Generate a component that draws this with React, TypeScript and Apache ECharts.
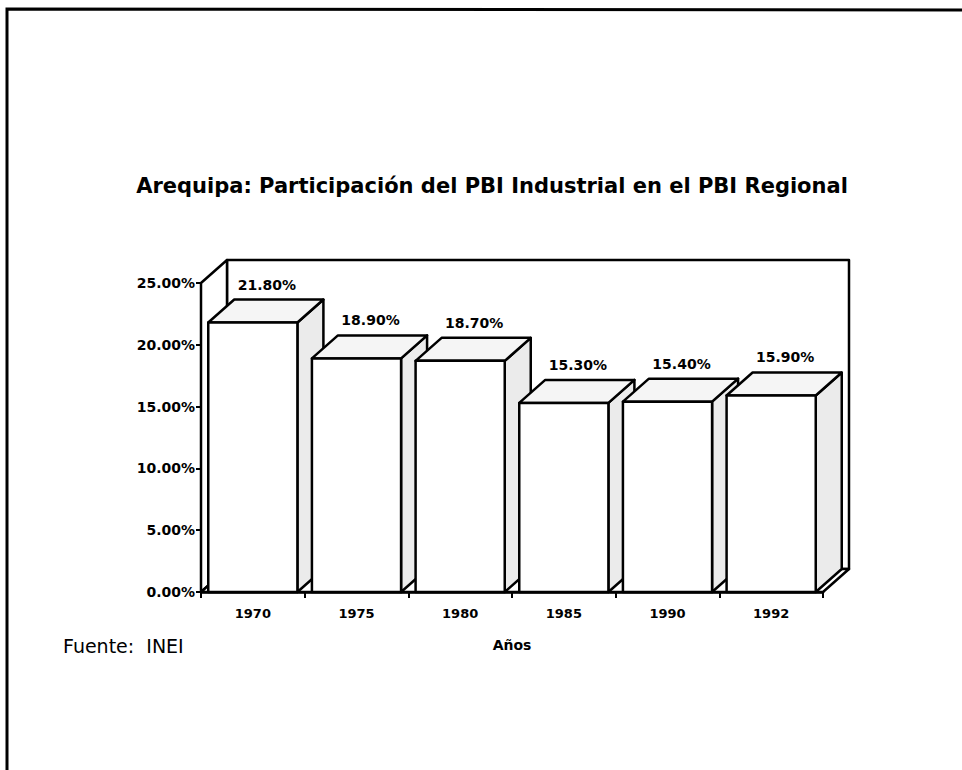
import React, { useEffect, useRef } from "react";
import * as echarts from "echarts";

const categories = ["1970", "1975", "1980", "1985", "1990", "1992"];
const values = [21.8, 18.9, 18.7, 15.3, 15.4, 15.9];
const yMin = 0;
const yMax = 25;
const yInterval = 5;
const titleText = "Arequipa: Participación del PBI Industrial en el PBI Regional";
const sourceText = "Fuente:  INEI";
const xAxisName = "Años";

const DX = 26;
const DY = -23;
const BAR_FRAC = 0.86;
const FONT = "'DejaVu Sans', Verdana, sans-serif";

export default function App() {
  const ref = useRef<HTMLDivElement>(null);

  useEffect(() => {
    if (!ref.current) return;
    const chart = echarts.init(ref.current, undefined, { renderer: "svg" });

    const wallRender = (params: any, api: any) => {
      const cs = params.coordSys;
      const x0 = cs.x;
      const x1 = cs.x + cs.width;
      const yT = api.coord([0, yMax])[1];
      const yB = api.coord([0, yMin])[1];
      const st = { fill: "#fff", stroke: "#000", lineWidth: 2.5, lineJoin: "round" };
      return {
        type: "group",
        children: [
          {
            type: "polygon",
            shape: { points: [[x0 + DX, yT + DY], [x1 + DX, yT + DY], [x1 + DX, yB + DY], [x0 + DX, yB + DY]] },
            style: st,
          },
          {
            type: "polygon",
            shape: { points: [[x0, yT], [x0 + DX, yT + DY], [x0 + DX, yB + DY], [x0, yB]] },
            style: st,
          },
          {
            type: "polygon",
            shape: { points: [[x0, yB], [x1, yB], [x1 + DX, yB + DY], [x0 + DX, yB + DY]] },
            style: st,
          },
        ],
      };
    };

    const barRender = (params: any, api: any) => {
      const idx = api.value(0);
      const v = api.value(1);
      const top = api.coord([idx, v]);
      const base = api.coord([idx, 0]);
      const w = api.size([1, 0])[0] * BAR_FRAC;
      const xl = top[0] - w / 2;
      const xr = top[0] + w / 2;
      const yt = top[1];
      const yb = base[1];
      const stroke = { stroke: "#000", lineWidth: 2.5, lineJoin: "round" };
      return {
        type: "group",
        children: [
          {
            type: "polygon",
            shape: { points: [[xr, yt], [xr + DX, yt + DY], [xr + DX, yb + DY], [xr, yb]] },
            style: { fill: "#ebebeb", ...stroke },
          },
          {
            type: "polygon",
            shape: { points: [[xl, yt], [xr, yt], [xr + DX, yt + DY], [xl + DX, yt + DY]] },
            style: { fill: "#f5f5f5", ...stroke },
          },
          {
            type: "rect",
            shape: { x: xl, y: yt, width: w, height: yb - yt },
            style: { fill: "#fff", ...stroke },
          },
          {
            type: "text",
            x: top[0] + DX / 2 + 1,
            y: yt + DY - 15,
            style: {
              text: v.toFixed(2) + "%",
              fill: "#000",
              font: "bold 14px " + FONT,
              align: "center",
              verticalAlign: "middle",
            },
          },
        ],
      };
    };

    chart.setOption({
      animation: false,
      backgroundColor: "#fff",
      grid: { left: 201, right: 139, top: 283, bottom: 178, containLabel: false },
      xAxis: {
        type: "category",
        data: categories,
        boundaryGap: true,
        name: xAxisName,
        nameLocation: "middle",
        nameGap: 46,
        nameTextStyle: { fontFamily: FONT, fontSize: 14, fontWeight: "bold", color: "#000" },
        axisLine: { show: true, lineStyle: { color: "#000", width: 2.5 } },
        axisTick: { show: true, length: 6, interval: 0, alignWithLabel: false, lineStyle: { color: "#000", width: 2 } },
        axisLabel: { fontFamily: FONT, fontSize: 13, fontWeight: "bold", color: "#000", margin: 15, interval: 0 },
        splitLine: { show: false },
      },
      yAxis: {
        type: "value",
        min: yMin,
        max: yMax,
        interval: yInterval,
        axisLine: { show: true, lineStyle: { color: "#000", width: 2.5 } },
        axisTick: { show: true, length: 5, lineStyle: { color: "#000", width: 2 } },
        axisLabel: {
          fontFamily: FONT,
          fontSize: 14,
          fontWeight: "bold",
          color: "#000",
          margin: 6,
          formatter: (v: number) => v.toFixed(2) + "%",
        },
        splitLine: { show: false },
      },
      series: [
        {
          type: "custom",
          name: "walls",
          z: 1,
          clip: false,
          silent: true,
          renderItem: wallRender,
          data: [[0, 0]],
        },
        {
          type: "custom",
          name: "PBI",
          z: 3,
          clip: false,
          renderItem: barRender,
          data: values.map((v, i) => [i, v]),
        },
      ],
      graphic: [
        {
          type: "polyline",
          shape: { points: [[7, 770], [7, 9], [962, 10]] },
          style: { stroke: "#000", lineWidth: 3, fill: "none" },
          z: 10,
        },
        {
          type: "text",
          x: 492,
          y: 186,
          style: {
            text: titleText,
            font: "bold 21px " + FONT,
            fill: "#000",
            align: "center",
            verticalAlign: "middle",
          },
        },
        {
          type: "text",
          x: 63,
          y: 646,
          style: {
            text: sourceText,
            font: "19px " + FONT,
            fill: "#000",
            align: "left",
            verticalAlign: "middle",
          },
        },
      ],
    });

    return () => chart.dispose();
  }, []);

  return (
    <div
      ref={ref}
      style={{ position: "absolute", left: 0, top: 0, width: 962, height: 770, background: "#fff" }}
    />
  );
}
